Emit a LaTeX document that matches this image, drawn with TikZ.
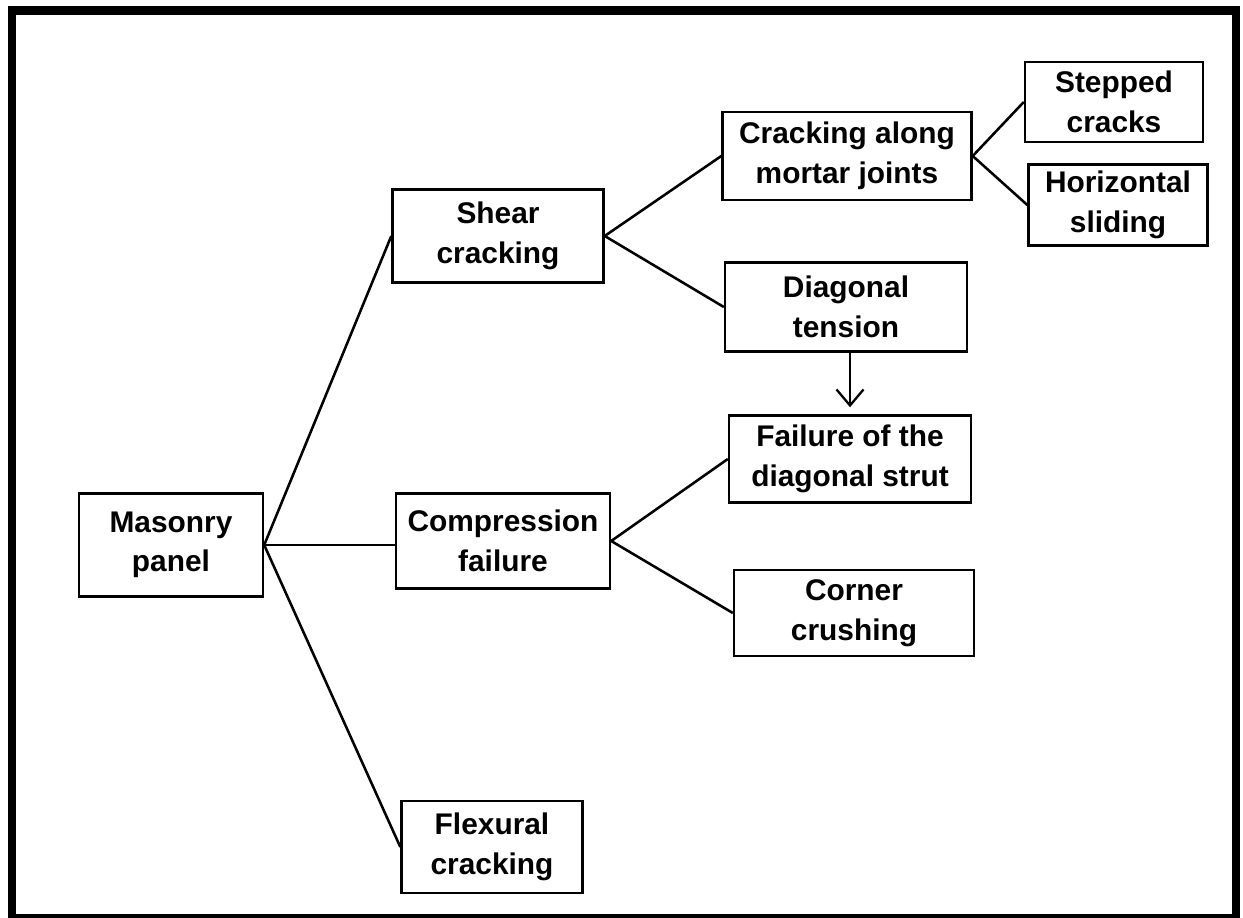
\documentclass[tikz,border=0pt]{standalone}
\usepackage{fontspec}
\setmainfont{Liberation Sans}
\usetikzlibrary{arrows.meta}

\begin{document}
\begin{tikzpicture}[
  x=0.02cm, y=-0.02cm,
  box/.style={draw, line width=1.4pt, align=center, inner sep=2pt,
              font=\fontsize{17}{22.5}\selectfont\bfseries},
  link/.style={line width=1.45pt},
  arr/.style={-{Straight Barb[length=3.2mm, width=5.4mm, line width=1.3pt]}, line width=1.3pt}
]

% Page frame
\useasboundingbox (0,0) rectangle (1243,918);
\draw[line width=4.6pt] (12,10.5) rectangle (1236,918);

% Root
\node[box, minimum width=3.68cm, minimum height=2.06cm] at (171, 545) (panel) {Masonry\\panel};

% Failure modes
\node[box, minimum width=4.22cm, minimum height=1.86cm] at (498, 236) (shear) {Shear\\cracking};
\node[box, minimum width=4.28cm, minimum height=1.90cm] at (503, 541) (compr) {Compression\\failure};
\node[box, minimum width=3.62cm, minimum height=1.84cm] at (492, 847) (flex)  {Flexural\\cracking};

% Shear branches
\node[box, minimum width=4.98cm, minimum height=1.76cm] at (847, 156) (joints) {Cracking along\\mortar joints};
\node[box, minimum width=4.84cm, minimum height=1.78cm] at (846, 307) (diag)   {Diagonal\\tension};
\node[box, minimum width=3.56cm, minimum height=1.60cm] at (1114, 102) (stepped) {Stepped\\cracks};
\node[box, minimum width=3.58cm, minimum height=1.62cm] at (1118, 205) (sliding) {Horizontal\\sliding};

% Compression branches
\node[box, minimum width=4.84cm, minimum height=1.74cm] at (850, 459) (strut)  {Failure of the\\diagonal strut};
\node[box, minimum width=4.80cm, minimum height=1.72cm] at (854, 613) (corner) {Corner\\crushing};

% Connectors
\draw[link] (panel.east)  -- (shear.west);
\draw[link] (panel.east)  -- (panel.east -| compr.west);
\draw[link] (panel.east)  -- (flex.west);
\draw[link] (shear.east)  -- (joints.west);
\draw[link] (shear.east)  -- (diag.west);
\draw[link] (joints.east) -- (stepped.west);
\draw[link] (joints.east) -- (sliding.west);
\draw[link] (compr.east)  -- (strut.west);
\draw[link] (compr.east)  -- (corner.west);
\draw[arr, shorten >=4pt] (diag.south -| strut.north) -- (strut.north);

\end{tikzpicture}
\end{document}
